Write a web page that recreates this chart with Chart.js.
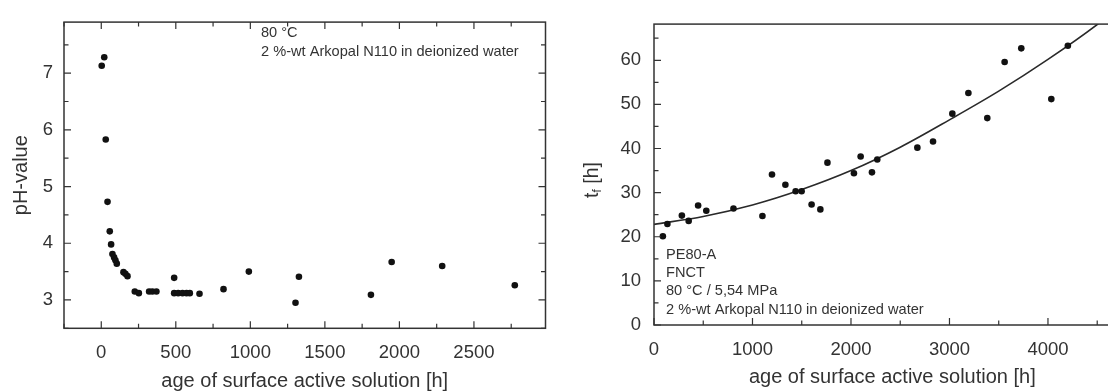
<!DOCTYPE html>
<html>
<head>
<meta charset="utf-8">
<script src="https://cdn.jsdelivr.net/npm/chart.js@4.4.1/dist/chart.umd.min.js"></script>
<style>
  html, body { margin: 0; padding: 0; background: #fff; overflow: hidden; }
  body { width: 1108px; height: 392px; position: relative; }
  canvas { position: absolute; top: 0; }
  #phChart { left: 0; }
  #tfChart { left: 554px; }
</style>
</head>
<body>
<canvas id="phChart" width="554" height="392"></canvas>
<canvas id="tfChart" width="580" height="392"></canvas>
<script>
// pH of the Arkopal solution as it ages at 80 °C
const phAge = [3, 20, 30, 42, 57, 66, 75, 86, 95, 104, 149, 162, 176, 225, 252, 321, 343, 370,
  489, 489, 516, 545, 572, 594, 659, 820, 990, 1303, 1326, 1809, 1948, 2287, 2774];
const phValue = [7.13, 7.28, 5.83, 4.73, 4.21, 3.98, 3.81, 3.75, 3.70, 3.64, 3.49, 3.46, 3.42, 3.15, 3.12, 3.15, 3.15, 3.15,
  3.39, 3.12, 3.12, 3.12, 3.12, 3.12, 3.11, 3.19, 3.50, 2.95, 3.41, 3.09, 3.67, 3.60, 3.26];

// FNCT failure times against the age of the same solution
const tfAge = [90, 136, 283, 352, 448, 531, 807, 1101, 1198, 1334, 1438, 1499, 1600, 1689, 1761,
  2030, 2098, 2213, 2267, 2674, 2833, 3029, 3192, 3384, 3560, 3729, 4034, 4202];
const tfHours = [20.1, 22.9, 24.8, 23.6, 27.1, 25.9, 26.4, 24.7, 34.1, 31.8, 30.3, 30.3, 27.3, 26.2, 36.8,
  34.4, 38.2, 34.6, 37.5, 40.2, 41.6, 47.9, 52.6, 46.9, 59.6, 62.7, 51.2, 63.3];

// trend line through the failure times
const fitAge = [0, 500, 1000, 1500, 2000, 2500, 3000, 3500, 4000, 4500, 4650];
const fitHours = [22.8, 24.6, 27.2, 30.7, 35.0, 40.3, 46.5, 53.0, 60.2, 68.1, 70.8];

// labelled ticks and the unlabelled marks between them
const phXTicks = [0, 500, 1000, 1500, 2000, 2500];
const phXMinor = [-250, 250, 750, 1250, 1750, 2250, 2750];
const phYTicks = [3, 4, 5, 6, 7];
const phYMinor = [2.5, 3.5, 4.5, 5.5, 6.5, 7.5];
const tfXTicks = [0, 1000, 2000, 3000, 4000];
const tfXMinor = [500, 1500, 2500, 3500, 4500];
const tfYTicks = [0, 10, 20, 30, 40, 50, 60];
const tfYMinor = [5, 15, 25, 35, 45, 55, 65];

const FONT = '"Liberation Sans", Arial, Helvetica, sans-serif';
const ink = '#333';
Chart.defaults.font.family = FONT;
Chart.defaults.color = ink;

// box round the plot with the tick marks pointing inwards
const frame = {
  id: 'frame',
  afterDraw(chart, args, o) {
    const { ctx, chartArea: a } = chart;
    const xs = chart.scales.x, ys = chart.scales.y;
    ctx.save();
    ctx.strokeStyle = ink;
    ctx.lineWidth = 1.5;
    ctx.strokeRect(a.left, a.top, a.right - a.left, a.bottom - a.top);
    ctx.lineWidth = 1.2;
    ctx.beginPath();
    const xMarks = xs.ticks.map(t => [t.value, 7]).concat(o.xMinor.map(v => [v, 4.5]));
    const yMarks = ys.ticks.map(t => [t.value, 7]).concat(o.yMinor.map(v => [v, 4.5]));
    xMarks.forEach(([v, len]) => {
      const px = xs.getPixelForValue(v);
      ctx.moveTo(px, a.bottom); ctx.lineTo(px, a.bottom - len);
      if (o.mirror) { ctx.moveTo(px, a.top); ctx.lineTo(px, a.top + len); }
    });
    yMarks.forEach(([v, len]) => {
      const py = ys.getPixelForValue(v);
      ctx.moveTo(a.left, py); ctx.lineTo(a.left + len, py);
      if (o.mirror) { ctx.moveTo(a.right, py); ctx.lineTo(a.right - len, py); }
    });
    ctx.stroke();
    ctx.restore();
  }
};

// small block of test conditions inside the plot
const notes = {
  id: 'notes',
  afterDraw(chart, args, o) {
    const { ctx } = chart;
    ctx.save();
    ctx.font = `14.6px ${FONT}`;
    ctx.fillStyle = ink;
    ctx.textBaseline = 'middle';
    o.lines.forEach((t, i) => ctx.fillText(t, o.x, o.y + i * 18.2));
    ctx.restore();
  }
};

// "t_f [h]" with a real subscript
const tfTitle = {
  id: 'tfTitle',
  afterDraw(chart) {
    const { ctx } = chart;
    ctx.save();
    ctx.fillStyle = ink;
    ctx.textBaseline = 'middle';
    const big = `19.5px ${FONT}`, small = `12px ${FONT}`;
    ctx.font = big;
    const wt = ctx.measureText('t').width, wh = ctx.measureText(' [h]').width;
    ctx.font = small;
    const wf = ctx.measureText('f').width;
    ctx.translate(38.7, 180);
    ctx.rotate(-Math.PI / 2);
    let x = -(wt + wf + wh) / 2;
    ctx.font = big; ctx.fillText('t', x, 0); x += wt;
    ctx.font = small; ctx.fillText('f', x, 5); x += wf;
    ctx.font = big; ctx.fillText(' [h]', x, 0);
    ctx.restore();
  }
};

function linearX(min, max, values, height, title, titlePad) {
  return {
    type: 'linear', position: 'bottom', min, max,
    grid: { display: false, drawTicks: false }, border: { display: false },
    afterBuildTicks(s) { s.ticks = values.map(value => ({ value })); },
    ticks: {
      autoSkip: false, maxRotation: 0, padding: 14, font: { size: 18.5 }, color: ink,
      callback: v => String(v)
    },
    title: { display: true, text: title, font: { size: 20 }, color: ink, padding: { top: 0, bottom: titlePad } },
    afterFit(s) { s.height = height; }
  };
}

function linearY(min, max, values, width, pad, title) {
  return {
    type: 'linear', position: 'left', min, max,
    grid: { display: false, drawTicks: false }, border: { display: false },
    afterBuildTicks(s) { s.ticks = values.map(value => ({ value })); },
    ticks: {
      autoSkip: false, padding: pad, font: { size: 18.5 }, color: ink,
      callback: v => String(v)
    },
    title: title ? { display: true, text: title, font: { size: 20 }, color: ink, padding: { top: 9.5, bottom: 0 } } : { display: false },
    afterFit(s) { s.width = width; }
  };
}

new Chart(document.getElementById('phChart'), {
  type: 'scatter',
  data: {
    datasets: [{
      data: phAge.map((x, i) => ({ x, y: phValue[i] })),
      pointRadius: 3.3, pointHoverRadius: 3.3,
      backgroundColor: '#111', borderWidth: 0
    }]
  },
  options: {
    responsive: false, animation: false,
    layout: { padding: { top: 12.7, right: 8.5, bottom: 0, left: 0 } },
    scales: {
      x: linearX(-250, 2980, phXTicks, 63.7, 'age of surface active solution [h]', -1.5),
      y: linearY(2.5, 7.9, phYTicks, 64, 11, 'pH-value')
    },
    plugins: {
      legend: { display: false }, tooltip: { enabled: false },
      frame: { mirror: true, xMinor: phXMinor, yMinor: phYMinor },
      notes: { x: 261, y: 33.3, lines: ['80 °C', '2 %-wt Arkopal N110 in deionized water'] }
    }
  },
  plugins: [frame, notes]
});

new Chart(document.getElementById('tfChart'), {
  type: 'scatter',
  data: {
    datasets: [{
      data: tfAge.map((x, i) => ({ x, y: tfHours[i] })),
      pointRadius: 3.3, pointHoverRadius: 3.3,
      backgroundColor: '#111', borderWidth: 0
    }, {
      type: 'line',
      data: fitAge.map((x, i) => ({ x, y: fitHours[i] })),
      borderColor: '#2a2a2a', borderWidth: 1.6,
      pointRadius: 0, cubicInterpolationMode: 'monotone', fill: false
    }]
  },
  options: {
    responsive: false, animation: false,
    layout: { padding: { top: 17.3, right: 0, bottom: 0, left: 0 } },
    scales: {
      x: linearX(0, 4840, tfXTicks, 67, 'age of surface active solution [h]', 2.5),
      y: linearY(0, 68.2, tfYTicks, 100, 13, null)
    },
    plugins: {
      legend: { display: false }, tooltip: { enabled: false },
      frame: { mirror: false, xMinor: tfXMinor, yMinor: tfYMinor },
      notes: { x: 112, y: 255, lines: ['PE80-A', 'FNCT', '80 °C / 5,54 MPa', '2 %-wt Arkopal N110 in deionized water'] }
    }
  },
  plugins: [frame, notes, tfTitle]
});
</script>
</body>
</html>
